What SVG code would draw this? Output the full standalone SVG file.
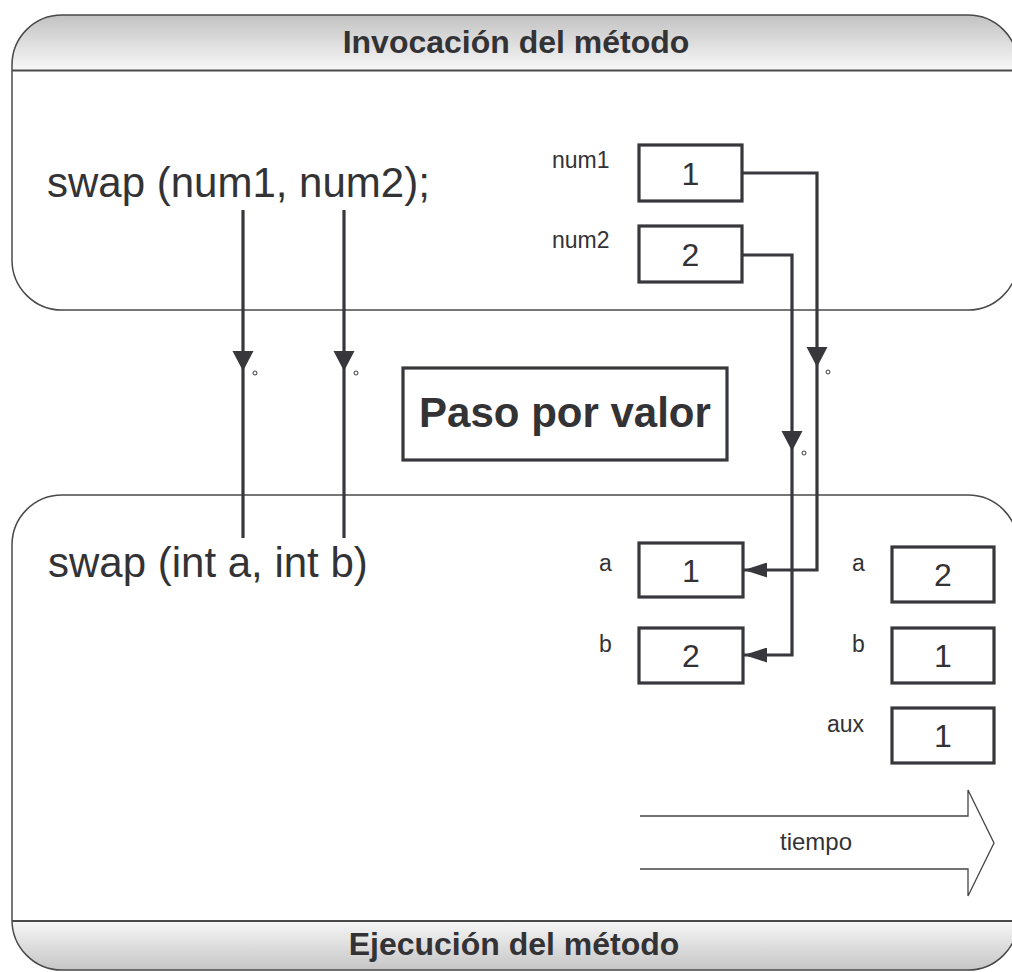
<svg xmlns="http://www.w3.org/2000/svg" xmlns:xlink="http://www.w3.org/1999/xlink" width="1012" height="972" viewBox="0 0 1012 972">
<style>
  text { font-family: "Liberation Sans", Arial, sans-serif; fill: #333336; }
  .title { font-size: 32px; font-weight: bold; text-anchor: middle; }
  .code { font-size: 42px; }
  .lbl { font-size: 23px; }
  .val { font-size: 32px; text-anchor: middle; }
  .box { fill: #ffffff; stroke: #38383c; stroke-width: 3.2; }
  .frame { fill: none; stroke: #4a4a4a; stroke-width: 1.5; }
  .divider { stroke: #4a4a4a; stroke-width: 2; }
  .conn { fill: none; stroke: #38383c; stroke-width: 3.2; }
  .dot { fill: none; stroke: #38383c; stroke-width: 1; }
  .tarrow { fill: none; stroke: #444; stroke-width: 1.3; }
</style>
<defs>
  <linearGradient id="gTop" x1="0" y1="0" x2="0" y2="1">
    <stop offset="0" stop-color="#c2c2c2"/>
    <stop offset="1" stop-color="#f8f8f8"/>
  </linearGradient>
  <linearGradient id="gBot" x1="0" y1="0" x2="0" y2="1">
    <stop offset="0" stop-color="#f6f6f6"/>
    <stop offset="1" stop-color="#c4c4c4"/>
  </linearGradient>
  <clipPath id="clipTop"><rect x="12" y="15" width="1006" height="295" rx="50" ry="50"/></clipPath>
  <clipPath id="clipBot"><rect x="12" y="495" width="1006" height="475" rx="50" ry="50"/></clipPath>
  <path id="triDown" d="M-10.5,-20 L10.5,-20 L0,0 Z" fill="#38383c"/>
  <marker id="arrowEnd" viewBox="0 0 23 15" refX="23" refY="7.5" markerWidth="23" markerHeight="15" markerUnits="userSpaceOnUse" orient="auto">
    <path d="M0,0 L23,7.5 L0,15 Z" fill="#38383c"/>
  </marker>
</defs>

<g id="invocacion">
  <rect x="12" y="15" width="1006" height="295" rx="50" ry="50" fill="#ffffff"/>
  <rect x="0" y="15" width="1012" height="55.5" fill="url(#gTop)" clip-path="url(#clipTop)"/>
  <line class="divider" x1="12" y1="70.5" x2="1012" y2="70.5"/>
  <rect class="frame" x="12" y="15" width="1006" height="295" rx="50" ry="50"/>
  <text class="title" x="516" y="53">Invocación del método</text>
</g>

<g id="ejecucion">
  <rect x="12" y="495" width="1006" height="475" rx="50" ry="50" fill="#ffffff"/>
  <rect x="0" y="921" width="1012" height="51" fill="url(#gBot)" clip-path="url(#clipBot)"/>
  <line class="divider" x1="12" y1="921" x2="1012" y2="921"/>
  <rect class="frame" x="12" y="495" width="1006" height="475" rx="50" ry="50"/>
  <text class="title" x="514" y="955">Ejecución del método</text>
</g>

<g id="swap-call">
  <text class="code" x="47" y="197">swap (num1, num2);</text>
</g>

<g id="swap-def">
  <text class="code" x="48" y="577">swap (int a, int b)</text>
</g>

<g id="num1">
  <text class="lbl" x="552" y="168">num1</text>
  <rect class="box" x="639" y="145" width="103" height="56"/>
  <text class="val" x="690.5" y="184.5">1</text>
</g>

<g id="num2">
  <text class="lbl" x="552" y="248">num2</text>
  <rect class="box" x="639" y="226" width="103" height="56"/>
  <text class="val" x="690.5" y="265.5">2</text>
</g>

<g id="paso">
  <rect class="box" x="403" y="368" width="324" height="92"/>
  <text x="565" y="427" style="font-size:42px;font-weight:bold;text-anchor:middle">Paso por valor</text>
</g>

<g id="a-in">
  <text class="lbl" x="599" y="571">a</text>
  <rect class="box" x="639" y="543" width="104" height="54"/>
  <text class="val" x="691" y="581.5">1</text>
</g>

<g id="b-in">
  <text class="lbl" x="599" y="652">b</text>
  <rect class="box" x="639" y="628" width="104" height="55"/>
  <text class="val" x="691" y="667">2</text>
</g>

<g id="a-out">
  <text class="lbl" x="852" y="571">a</text>
  <rect class="box" x="892" y="547" width="102" height="55"/>
  <text class="val" x="943" y="586">2</text>
</g>

<g id="b-out">
  <text class="lbl" x="852" y="652">b</text>
  <rect class="box" x="892" y="628" width="102" height="55"/>
  <text class="val" x="943" y="667">1</text>
</g>

<g id="aux">
  <text class="lbl" x="827" y="732">aux</text>
  <rect class="box" x="892" y="708" width="102" height="55"/>
  <text class="val" x="943" y="747">1</text>
</g>

<g id="tiempo">
  <path class="tarrow" d="M640,816 H968 V790 L994,843 L968,896 V869 H640"/>
  <text x="816" y="850" style="font-size:24px;text-anchor:middle">tiempo</text>
</g>

<g id="connectors">
  <line class="conn" x1="243" y1="210" x2="243" y2="538"/>
  <use xlink:href="#triDown" x="243" y="371"/>
  <circle class="dot" cx="255" cy="373" r="2"/>

  <line class="conn" x1="344" y1="210" x2="344" y2="538"/>
  <use xlink:href="#triDown" x="344" y="371"/>
  <circle class="dot" cx="356" cy="373" r="2"/>

  <path class="conn" d="M742,173 H817 V570 H744" marker-end="url(#arrowEnd)"/>
  <use xlink:href="#triDown" x="817" y="367"/>
  <circle class="dot" cx="828" cy="372" r="2"/>

  <path class="conn" d="M742,255 H792 V655 H744" marker-end="url(#arrowEnd)"/>
  <use xlink:href="#triDown" x="792" y="451"/>
  <circle class="dot" cx="804" cy="453" r="2"/>
</g>
</svg>
